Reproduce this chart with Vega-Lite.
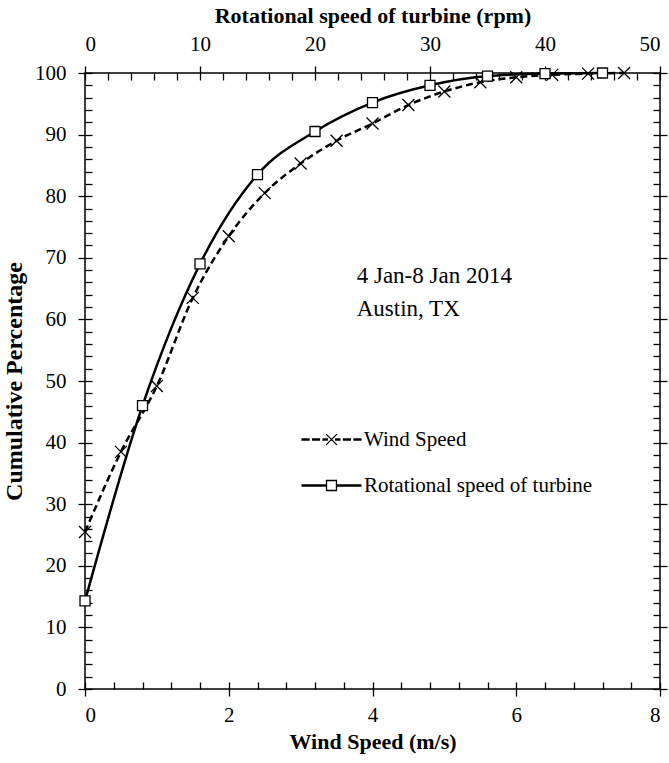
{
  "$schema": "https://vega.github.io/schema/vega-lite/v6.json",
  "width": 575,
  "height": 616,
  "autosize": {"type": "none"},
  "padding": {"left": 85, "top": 73, "right": 9, "bottom": 74},
  "background": "white",
  "config": {
    "view": {"stroke": "black", "strokeWidth": 1.5},
    "font": "Liberation Serif",
    "axis": {
      "domain": false,
      "grid": false,
      "tickColor": "black",
      "tickWidth": 1.3,
      "labelFont": "Liberation Serif",
      "labelFontSize": 21,
      "labelColor": "black",
      "titleFont": "Liberation Serif",
      "titleFontSize": 22,
      "titleFontWeight": "bold",
      "titleColor": "black"
    }
  },
  "datasets": {
    "wind": [
      {"ws": 0, "p": 25.5},
      {"ws": 0.5, "p": 38.5},
      {"ws": 1.0, "p": 49.2},
      {"ws": 1.5, "p": 63.5},
      {"ws": 2.0, "p": 73.5},
      {"ws": 2.5, "p": 80.5},
      {"ws": 3.0, "p": 85.3},
      {"ws": 3.5, "p": 89.0},
      {"ws": 4.0, "p": 91.8},
      {"ws": 4.5, "p": 94.8},
      {"ws": 5.0, "p": 97.0},
      {"ws": 5.5, "p": 98.5},
      {"ws": 6.0, "p": 99.3},
      {"ws": 6.5, "p": 99.7},
      {"ws": 7.0, "p": 99.9},
      {"ws": 7.5, "p": 100}
    ],
    "rotor": [
      {"r": 0, "p": 14.3},
      {"r": 5, "p": 46.0},
      {"r": 10, "p": 69.0},
      {"r": 15, "p": 83.5},
      {"r": 20, "p": 90.5},
      {"r": 25, "p": 95.2},
      {"r": 30, "p": 98.0},
      {"r": 35, "p": 99.5},
      {"r": 40, "p": 99.9},
      {"r": 45, "p": 100}
    ]
  },
  "layer": [
    {
      "data": {"name": "wind"},
      "mark": {"type": "line", "interpolate": "monotone", "color": "black", "strokeWidth": 2.5, "strokeDash": [7, 4]},
      "encoding": {
        "x": {"field": "ws", "type": "quantitative", "scale": {"domain": [0, 8], "nice": false},
          "axis": {"orient": "bottom", "values": [0, 2, 4, 6, 8], "tickSize": 7, "labelPadding": 8, "title": "Wind Speed (m/s)", "titlePadding": 6}},
        "y": {"field": "p", "type": "quantitative", "scale": {"domain": [0, 100], "nice": false},
          "axis": {"orient": "left", "values": [0, 10, 20, 30, 40, 50, 60, 70, 80, 90, 100], "tickSize": 7, "labelPadding": 12, "title": "Cumulative Percentage", "titleFontSize": 24, "titlePadding": 8}}
      }
    },
    {
      "data": {"name": "rotor"},
      "mark": {"type": "line", "interpolate": "monotone", "color": "black", "strokeWidth": 2.5},
      "encoding": {
        "x": {"field": "r", "type": "quantitative", "scale": {"domain": [0, 50], "nice": false},
          "axis": {"orient": "top", "values": [0, 10, 20, 30, 40, 50], "tickSize": 7, "labelPadding": 12, "title": "Rotational speed of turbine (rpm)", "titlePadding": 6}},
        "y": {"field": "p", "type": "quantitative", "scale": {"domain": [0, 100], "nice": false},
          "axis": {"orient": "right", "values": [0, 10, 20, 30, 40, 50, 60, 70, 80, 90, 100], "tickSize": 7, "labels": false, "title": null}}
      }
    },
    {
      "data": {"name": "wind"},
      "mark": {"type": "point", "shape": "M-1,-1L1,1M-1,1L1,-1", "size": 144, "filled": false, "stroke": "black", "strokeWidth": 1.3, "opacity": 1},
      "encoding": {
        "x": {"field": "ws", "type": "quantitative", "scale": {"domain": [0, 8], "nice": false},
          "axis": {"orient": "bottom", "values": [0, 0.4, 0.8, 1.2, 1.6, 2, 2.4, 2.8, 3.2, 3.6, 4, 4.4, 4.8, 5.2, 5.6, 6, 6.4, 6.8, 7.2, 7.6, 8], "tickSize": -7, "labels": false, "title": null}},
        "y": {"field": "p", "type": "quantitative", "scale": {"domain": [0, 100], "nice": false},
          "axis": {"orient": "left", "values": [0, 2, 4, 6, 8, 10, 12, 14, 16, 18, 20, 22, 24, 26, 28, 30, 32, 34, 36, 38, 40, 42, 44, 46, 48, 50, 52, 54, 56, 58, 60, 62, 64, 66, 68, 70, 72, 74, 76, 78, 80, 82, 84, 86, 88, 90, 92, 94, 96, 98, 100], "tickSize": -7, "labels": false, "title": null}}
      }
    },
    {
      "data": {"name": "rotor"},
      "mark": {"type": "point", "shape": "square", "size": 100, "filled": false, "fill": "white", "stroke": "black", "strokeWidth": 1.3, "opacity": 1},
      "encoding": {
        "x": {"field": "r", "type": "quantitative", "scale": {"domain": [0, 50], "nice": false},
          "axis": {"orient": "top", "values": [0, 2, 4, 6, 8, 10, 12, 14, 16, 18, 20, 22, 24, 26, 28, 30, 32, 34, 36, 38, 40, 42, 44, 46, 48, 50], "tickSize": -7, "labels": false, "title": null}},
        "y": {"field": "p", "type": "quantitative", "scale": {"domain": [0, 100], "nice": false},
          "axis": {"orient": "right", "values": [0, 2, 4, 6, 8, 10, 12, 14, 16, 18, 20, 22, 24, 26, 28, 30, 32, 34, 36, 38, 40, 42, 44, 46, 48, 50, 52, 54, 56, 58, 60, 62, 64, 66, 68, 70, 72, 74, 76, 78, 80, 82, 84, 86, 88, 90, 92, 94, 96, 98, 100], "tickSize": -7, "labels": false, "title": null}}
      }
    },
    {
      "data": {"values": [{"note": ["4 Jan-8 Jan 2014", "Austin, TX"]}]},
      "mark": {"type": "text", "align": "left", "baseline": "alphabetic", "font": "Liberation Serif", "fontSize": 23, "lineHeight": 33, "color": "black"},
      "encoding": {
        "x": {"datum": 3.78, "type": "quantitative", "scale": {"domain": [0, 8], "nice": false}, "axis": null},
        "y": {"datum": 65.9, "type": "quantitative", "scale": {"domain": [0, 100], "nice": false}, "axis": null},
        "text": {"field": "note"}
      }
    },
    {
      "data": {"values": []},
      "mark": {"type": "point", "filled": false, "color": "black", "strokeWidth": 1.3},
      "encoding": {
        "shape": {
          "field": "series", "type": "nominal",
          "scale": {
            "domain": ["Wind Speed", "Rotational speed of turbine"],
            "range": [
              "M-4.9,-0.1H-3.75V0.1H-4.9ZM-3.15,-0.1H-2V0.1H-3.15ZM-1.4,-0.1H-0.7V0.1H-1.4ZM0.7,-0.1H1.4V0.1H0.7ZM2,-0.1H3.15V0.1H2ZM3.75,-0.1H4.9V0.1H3.75ZM-0.9,-0.9L0.9,0.9M-0.9,0.9L0.9,-0.9",
              "M-4.9,-0.1H-0.83V0.1H-4.9ZM0.83,-0.1H4.9V0.1H0.83ZM-0.94,-0.83H0.94M0.83,-0.94V0.94M0.94,0.83H-0.94M-0.83,0.94V-0.94"
            ]
          },
          "legend": {
            "orient": "none", "legendX": 236, "legendY": 356, "title": null, "padding": 0,
            "symbolSize": 144, "symbolStrokeWidth": 1.3, "symbolStrokeColor": "black", "symbolFillColor": "transparent", "symbolOpacity": 1,
            "labelFont": "Liberation Serif", "labelFontSize": 21, "labelColor": "black", "labelOffset": 22, "rowPadding": 24, "labelLimit": 400
          }
        }
      }
    }
  ],
  "resolve": {"scale": {"x": "independent"}, "axis": {"x": "independent", "y": "independent"}}
}
